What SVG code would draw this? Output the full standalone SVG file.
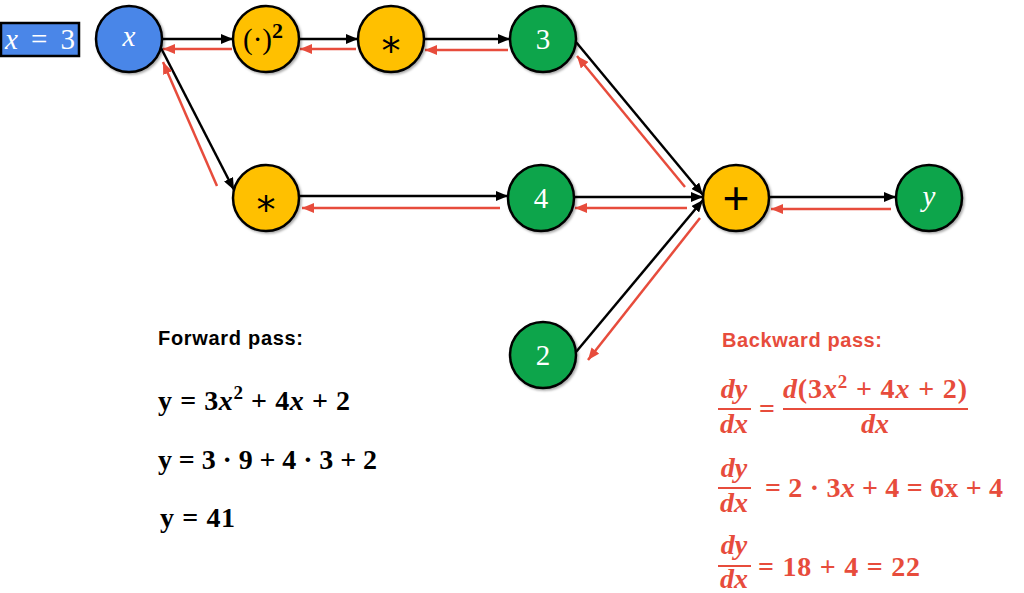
<svg xmlns="http://www.w3.org/2000/svg" width="1024" height="593" viewBox="0 0 1024 593">
<style>
.n{stroke:#000;stroke-width:2.5;filter:url(#sh)}
.blue{fill:#4a86e8}.gold{fill:#ffc000}.green{fill:#11a54b}
.lbl{font-family:"Liberation Serif","DejaVu Serif",serif;font-size:29px;text-anchor:middle}
.w{fill:#fff}.k{fill:#000}
.f{stroke:#000;stroke-width:2.5;fill:none;marker-end:url(#ab)}
.b{stroke:#e74c3c;stroke-width:2.5;fill:none;marker-end:url(#ar)}
.eq{font-family:"Liberation Serif","DejaVu Serif",serif;font-weight:bold;font-size:28px}
.red{fill:#e74c3c}
.head{font-family:"Liberation Sans","Arial",sans-serif;font-weight:bold;font-size:20px}
</style>
<defs>
<filter id="sh" x="-20%" y="-20%" width="150%" height="150%"><feDropShadow dx="1.5" dy="1.5" stdDeviation="1.2" flood-opacity="0.35"/></filter>
<marker id="ab" viewBox="0 0 12 10" refX="12" refY="5" markerWidth="12" markerHeight="10" markerUnits="userSpaceOnUse" orient="auto"><path d="M0,0 L12,5 L0,10 z" fill="#000"/></marker>
<marker id="ar" viewBox="0 0 12 10" refX="12" refY="5" markerWidth="12" markerHeight="10" markerUnits="userSpaceOnUse" orient="auto"><path d="M0,0 L12,5 L0,10 z" fill="#e74c3c"/></marker>
</defs>
<rect width="1024" height="593" fill="#fff"/>

<g id="connectors">
<path class="f" d="M162,39 L233,39"/>
<path class="f" d="M299,39 L358,39"/>
<path class="f" d="M424,39 L510,39"/>
<path class="f" d="M160,46 L234,190"/>
<path class="f" d="M299,196 L508,196"/>
<path class="f" d="M576,42 L703,195"/>
<path class="f" d="M574,197 L703,197"/>
<path class="f" d="M576,352 L703,200"/>
<path class="f" d="M769,197 L896,197"/>
<path class="b" d="M232,49 L163,49"/>
<path class="b" d="M356,49 L300,49"/>
<path class="b" d="M508,50 L425,50"/>
<path class="b" d="M217,186 L163,62"/>
<path class="b" d="M500,208 L302,208"/>
<path class="b" d="M685,187 L577,56"/>
<path class="b" d="M687,208 L575,208"/>
<path class="b" d="M700,218 L588,360"/>
<path class="b" d="M891,209 L771,209"/>
</g>

<g id="input">
<rect x="1" y="23" width="78" height="33" fill="#4a86e8" stroke="#000" stroke-width="2.5"/>
<text x="40" y="49" class="lbl w" font-size="29" textLength="70"><tspan font-style="italic">x</tspan> = 3</text>
</g>
<g id="node-x"><circle class="n blue" cx="129" cy="39" r="33"/><text x="129" y="46" class="lbl w" font-style="italic">x</text></g>
<g id="node-sq"><circle class="n gold" cx="266" cy="39" r="33"/><text x="263" y="49" class="lbl k" font-size="30">(·)<tspan dy="-11" font-size="22" font-weight="bold">2</tspan></text></g>
<g id="node-mul1"><circle class="n gold" cx="391" cy="39" r="33"/><text x="391" y="64" class="k" font-family="DejaVu Sans, sans-serif" font-size="38" text-anchor="middle">*</text></g>
<g id="node-3"><circle class="n green" cx="543" cy="39" r="33"/><text x="543" y="49" class="lbl w">3</text></g>
<g id="node-mul2"><circle class="n gold" cx="266" cy="198" r="33"/><text x="266" y="223" class="k" font-family="DejaVu Sans, sans-serif" font-size="38" text-anchor="middle">*</text></g>
<g id="node-4"><circle class="n green" cx="541" cy="198" r="33"/><text x="541" y="208" class="lbl w">4</text></g>
<g id="node-plus"><circle class="n gold" cx="736" cy="198" r="33"/><text x="736" y="214" class="k" font-family="Liberation Sans, sans-serif" font-size="46" text-anchor="middle">+</text></g>
<g id="node-y"><circle class="n green" cx="929" cy="198" r="33"/><text x="929" y="206" class="lbl w" font-style="italic">y</text></g>
<g id="node-2"><circle class="n green" cx="543" cy="355" r="33"/><text x="543" y="365" class="lbl w">2</text></g>

<g id="forward">
<text x="158" y="345" class="head" textLength="145">Forward pass:</text>
<text x="158" y="410" class="eq" textLength="192">y = 3<tspan font-style="italic">x</tspan><tspan dy="-11" font-size="19">2</tspan><tspan dy="11"> + 4</tspan><tspan font-style="italic">x</tspan> + 2</text>
<text x="158" y="469" class="eq" textLength="219">y = 3 · 9 + 4 · 3 + 2</text>
<text x="160" y="527" class="eq" textLength="75">y = 41</text>
</g>

<g id="backward">
<text x="722" y="347" class="head red" textLength="160">Backward pass:</text>
<g class="eq red" font-size="29">
<text x="734" y="398" text-anchor="middle" font-style="italic">dy</text>
<line x1="718" y1="409" x2="751" y2="409" stroke="#e74c3c" stroke-width="2"/>
<text x="734" y="433" text-anchor="middle" font-style="italic">dx</text>
<text x="767" y="418" text-anchor="middle">=</text>
<text x="783" y="398" textLength="184"><tspan font-style="italic">d</tspan>(3<tspan font-style="italic">x</tspan><tspan dy="-10" font-size="19">2</tspan><tspan dy="10"> + 4</tspan><tspan font-style="italic">x</tspan> + 2)</text>
<line x1="783" y1="409" x2="968" y2="409" stroke="#e74c3c" stroke-width="2"/>
<text x="875" y="433" text-anchor="middle" font-style="italic">dx</text>

<text x="734" y="477" text-anchor="middle" font-style="italic">dy</text>
<line x1="718" y1="488" x2="751" y2="488" stroke="#e74c3c" stroke-width="2"/>
<text x="734" y="512" text-anchor="middle" font-style="italic">dx</text>
<text x="765" y="497" textLength="238">= 2 · 3<tspan font-style="italic">x</tspan> + 4 = 6x + 4</text>

<text x="734" y="554" text-anchor="middle" font-style="italic">dy</text>
<line x1="718" y1="566" x2="751" y2="566" stroke="#e74c3c" stroke-width="2"/>
<text x="734" y="588" text-anchor="middle" font-style="italic">dx</text>
<text x="758" y="576" textLength="162">= 18 + 4 = 22</text>
</g>
</g>
</svg>
